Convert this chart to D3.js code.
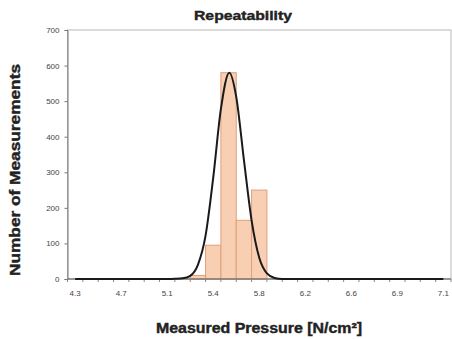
<!DOCTYPE html>
<html>
<head>
<meta charset="utf-8">
<script src="https://cdn.jsdelivr.net/npm/d3@7"></script>
<style>
  body { margin: 0; background: #fff; }
  text { font-family: "Liberation Sans", Arial, sans-serif; }
</style>
</head>
<body>
<svg id="chart"></svg>
<script>
// histogram bins (25 categories), labels shown on every 3rd bin
const binCount = 25;
const tickBins = [0, 3, 6, 9, 12, 15, 18, 21, 24];
const tickLabels = ["4.3", "4.7", "5.1", "5.4", "5.8", "6.2", "6.6", "6.9", "7.1"];
const counts = [0, 0, 0, 0, 0, 0, 0, 0, 10, 95, 580, 165, 250, 0, 0, 0, 0, 0, 0, 0, 0, 0, 0, 0, 0];

// normal fit curve (x in bin units)
const curveX = [0.5, 6.5, 7.0, 7.5, 8.0, 8.5, 9.0, 9.5, 10.0, 10.55, 11.0, 11.5, 12.0, 12.5, 13.0, 13.5, 14.0, 24.5];
const curveY = [0, 0, 0.5, 2, 9, 40, 122, 285, 478, 580, 512, 335, 165, 60, 16, 3, 0, 0];

const yTicks = [0, 100, 200, 300, 400, 500, 600, 700];

const W = 452, H = 339;
const mLeft = 67.5, mRight = 451, mTop = 30, mBottom = 279;

const svg = d3.select('#chart').attr('width', W).attr('height', H);

const x = d3.scaleLinear().domain([0, binCount]).range([mLeft, mRight]);
const y = d3.scaleLinear().domain([0, 700]).range([mBottom, mTop]);

// frame
svg.append('rect')
  .attr('x', mLeft).attr('y', mTop)
  .attr('width', mRight - mLeft).attr('height', mBottom - mTop)
  .attr('fill', 'none').attr('stroke', '#b8b8b8').attr('stroke-width', 1);

// bars
svg.append('g').selectAll('rect')
  .data(counts.map((c, i) => ({i, c})).filter(d => d.c > 0))
  .join('rect')
  .attr('x', d => x(d.i))
  .attr('y', d => y(d.c))
  .attr('width', d => x(d.i + 1) - x(d.i))
  .attr('height', d => y(0) - y(d.c))
  .attr('fill', '#f8cfb3')
  .attr('stroke', '#df9f7c')
  .attr('stroke-width', 1);

// y axis
const yAxis = d3.axisLeft(y).tickValues(yTicks).tickSize(3).tickPadding(5);
const gy = svg.append('g').attr('transform', `translate(${mLeft},0)`).call(yAxis);
gy.select('.domain').attr('stroke', '#777');
gy.selectAll('.tick line').attr('stroke', '#777');
gy.selectAll('.tick text').attr('font-size', 8).attr('fill', '#444');

// x axis: small ticks at bin edges, labels every 3rd bin
const gx = svg.append('g').attr('transform', `translate(0,${mBottom})`);
gx.append('line').attr('x1', mLeft).attr('x2', mRight).attr('stroke', '#555').attr('stroke-width', 1.2);
gx.selectAll('line.tk')
  .data(d3.range(binCount + 1))
  .join('line')
  .attr('class', 'tk')
  .attr('x1', d => x(d)).attr('x2', d => x(d))
  .attr('y1', 0).attr('y2', 3)
  .attr('stroke', '#888');
gx.selectAll('text')
  .data(tickBins)
  .join('text')
  .attr('x', d => x(d + 0.5))
  .attr('y', 17)
  .attr('text-anchor', 'middle')
  .attr('font-size', 8)
  .attr('fill', '#444')
  .text((d, i) => tickLabels[i]);

// fitted curve
const line = d3.line()
  .x(d => x(d[0]))
  .y(d => y(d[1]))
  .curve(d3.curveMonotoneX);
svg.append('path')
  .datum(curveX.map((v, i) => [v, curveY[i]]))
  .attr('d', line)
  .attr('fill', 'none')
  .attr('stroke', '#1a1a1a')
  .attr('stroke-width', 2);

// titles (heavy face, stretched to the reference widths)
svg.append('text')
  .attr('x', 243).attr('y', 20)
  .attr('text-anchor', 'middle')
  .attr('font-size', 13).attr('font-weight', 'bold').attr('fill', '#222')
  .attr('stroke', '#222').attr('stroke-width', 0.4)
  .attr('textLength', 98).attr('lengthAdjust', 'spacingAndGlyphs')
  .text('Repeatability');

svg.append('text')
  .attr('transform', 'translate(20,170) rotate(-90)')
  .attr('text-anchor', 'middle')
  .attr('font-size', 14).attr('font-weight', 'bold').attr('fill', '#222')
  .attr('stroke', '#222').attr('stroke-width', 0.4)
  .attr('textLength', 212).attr('lengthAdjust', 'spacingAndGlyphs')
  .text('Number of Measurements');

svg.append('text')
  .attr('x', 259).attr('y', 333)
  .attr('text-anchor', 'middle')
  .attr('font-size', 14).attr('font-weight', 'bold').attr('fill', '#222')
  .attr('stroke', '#222').attr('stroke-width', 0.4)
  .attr('textLength', 206).attr('lengthAdjust', 'spacingAndGlyphs')
  .text('Measured Pressure [N/cm²]');
</script>
</body>
</html>
